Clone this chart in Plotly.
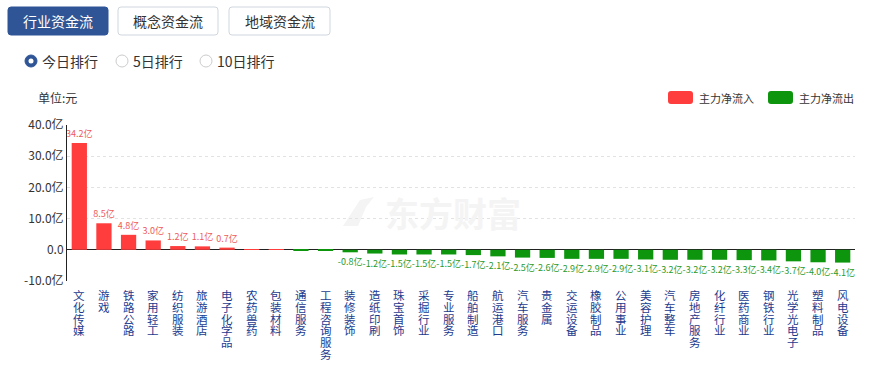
import plotly.graph_objects as go

categories = ["文化传媒", "游戏", "铁路公路", "家用轻工", "纺织服装", "旅游酒店", "电子化学品",
              "农药兽药", "包装材料", "通信服务", "工程咨询服务", "装修装饰", "造纸印刷", "珠宝首饰",
              "采掘行业", "专业服务", "船舶制造", "航运港口", "汽车服务", "贵金属", "交运设备",
              "橡胶制品", "公用事业", "美容护理", "汽车整车", "房地产服务", "化纤行业", "医药商业",
              "钢铁行业", "光学光电子", "塑料制品", "风电设备"]
values = [34.2, 8.5, 4.8, 3.0, 1.2, 1.1, 0.7,
          0.15, 0.15, -0.1, -0.2, -0.8, -1.2, -1.5,
          -1.5, -1.5, -1.7, -2.1, -2.5, -2.6, -2.9,
          -2.9, -2.9, -3.1, -3.2, -3.2, -3.2, -3.3,
          -3.4, -3.7, -4.0, -4.1]
y_ticks = [-10, 0, 10, 20, 30, 40]
y_tick_labels = ["-10.0亿", "0.0", "10.0亿", "20.0亿", "30.0亿", "40.0亿"]
tabs = ["行业资金流", "概念资金流", "地域资金流"]
radios = ["今日排行", "5日排行", "10日排行"]
legend_names = ["主力净流入", "主力净流出"]

W, H = 872, 368
L, R, T, B = 67, 17, 125, 87
PW, PH = W - L - R, H - T - B
FONT = "Noto Sans CJK SC"
RED, GREEN = "#ff3d3d", "#0d960d"
BLUE = "#2f5597"


def px(x):
    return (x - L) / PW


def py(y):
    return (H - B - y) / PH


def rrect(x0, y0, x1, y1, r):
    return ("M {a},{b} L {c},{b} Q {d},{b} {d},{e} L {d},{f} Q {d},{g} {c},{g} "
            "L {a},{g} Q {h},{g} {h},{f} L {h},{e} Q {h},{b} {a},{b} Z").format(
        a=px(x0 + r), b=py(y0), c=px(x1 - r), d=px(x1), e=py(y0 + r),
        f=py(y1 - r), g=py(y1), h=px(x0))


def label(x, y, text, size, color, xanchor="center", **kw):
    return dict(xref="paper", yref="paper", x=px(x), y=py(y), text=text, showarrow=False,
                xanchor=xanchor, yanchor="middle",
                font=dict(size=size, color=color, family=FONT), **kw)


colors = [RED if v >= 0 else GREEN for v in values]
text_colors = ["#ee5a5a" if v >= 0 else "#2a9a2a" for v in values]
texts = [("%.1f亿" % v) if abs(v) >= 0.5 else "" for v in values]

fig = go.Figure()
fig.add_trace(go.Bar(
    x=categories, y=values, marker=dict(color=colors, line=dict(width=0)),
    text=texts, textposition="outside", constraintext="none", cliponaxis=False,
    textfont=dict(size=9, color=text_colors, family=FONT), showlegend=False,
    hoverinfo="x+y"))

shapes = []
annotations = []

# watermark
annotations.append(label(453, 212, "<b>东方财富</b>", 34, "#f4f4f4"))
logo = [(343, 226), (360, 200), (374, 197), (366, 207), (358, 226)]
shapes.append(dict(type="path", xref="paper", yref="paper", layer="below",
                   path="M " + " L ".join("%f,%f" % (px(a), py(b)) for a, b in logo) + " Z",
                   fillcolor="#f4f4f4", line=dict(width=0)))

# tabs
tab_x = [(8, 108), (118, 218), (229, 330)]
for i, (name, (x0, x1)) in enumerate(zip(tabs, tab_x)):
    active = i == 0
    shapes.append(dict(type="path", xref="paper", yref="paper", path=rrect(x0, 7, x1, 35, 3),
                       fillcolor=BLUE if active else "white", layer="below",
                       line=dict(color=BLUE if active else "#cfd6e0", width=1)))
    annotations.append(label((x0 + x1) / 2, 21, name, 14, "white" if active else "#333"))

# radios
radio_x = [31, 122, 206]
for i, (name, cx) in enumerate(zip(radios, radio_x)):
    active = i == 0
    r = 6
    shapes.append(dict(type="circle", xref="paper", yref="paper", layer="below",
                       x0=px(cx - r), x1=px(cx + r), y0=py(61 + r), y1=py(61 - r),
                       fillcolor=BLUE if active else "white",
                       line=dict(color=BLUE if active else "#cccccc", width=1)))
    if active:
        shapes.append(dict(type="circle", xref="paper", yref="paper", layer="below",
                           x0=px(cx - 2.5), x1=px(cx + 2.5), y0=py(61 + 2.5), y1=py(61 - 2.5),
                           fillcolor="white", line=dict(width=0)))
    annotations.append(label(cx + 9, 61, name, 14, "#333", xanchor="left"))

# unit label
annotations.append(label(36, 97, "单位:元", 12, "#333", xanchor="left"))

# legend
leg = [(668, 693, RED, legend_names[0]), (768, 793, GREEN, legend_names[1])]
for x0, x1, c, name in leg:
    shapes.append(dict(type="path", xref="paper", yref="paper", path=rrect(x0, 91, x1, 104, 3),
                       fillcolor=c, line=dict(width=0), layer="below"))
    annotations.append(label(x1 + 4, 97.5, name, 11, "#333", xanchor="left"))

# vertical category labels
for cat in categories:
    for k, ch in enumerate(cat):
        annotations.append(dict(xref="x", yref="paper", x=cat, y=0, yanchor="top",
                                yshift=-5 - 11.8 * k, text=ch, showarrow=False, borderpad=0,
                                font=dict(size=11.5, color="#1d3b8e", family=FONT)))

fig.update_layout(
    width=W, height=H, margin=dict(l=L, r=R, t=T, b=B, pad=0),
    paper_bgcolor="white", plot_bgcolor="white",
    font=dict(family=FONT, color="#333"),
    bargap=0.38, shapes=shapes, annotations=annotations,
    xaxis=dict(showticklabels=False, showgrid=False, zeroline=False, showline=False,
               ticks="", fixedrange=True),
    yaxis=dict(range=[-10, 40], tickvals=y_ticks, ticktext=y_tick_labels,
               tickfont=dict(size=12, color="#333", family=FONT),
               showgrid=True, gridcolor="#e2e2e2", griddash="dot", gridwidth=1,
               zeroline=True, zerolinecolor="#222", zerolinewidth=1,
               showline=True, linecolor="#222", linewidth=1, ticks="", ticklen=0,
               fixedrange=True),
)

fig.write_html("out.html", config={"displayModeBar": False},
               post_script="document.body.style.margin='0px';document.body.style.padding='0px';")
